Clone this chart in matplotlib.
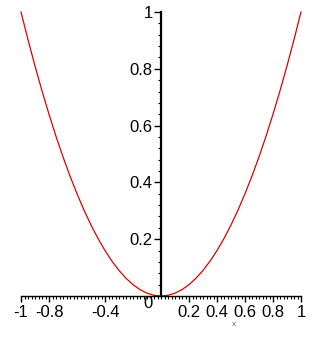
import matplotlib
matplotlib.use("Agg")
import matplotlib.pyplot as plt
from matplotlib.ticker import FixedLocator, MultipleLocator

# data (curve samples)
x_vals = [-1.0, -0.95, -0.9, -0.85, -0.8, -0.75, -0.7, -0.65, -0.6, -0.55, -0.5,
          -0.45, -0.4, -0.35, -0.3, -0.25, -0.2, -0.15, -0.1, -0.05, 0.0,
          0.05, 0.1, 0.15, 0.2, 0.25, 0.3, 0.35, 0.4, 0.45, 0.5,
          0.55, 0.6, 0.65, 0.7, 0.75, 0.8, 0.85, 0.9, 0.95, 1.0]
y_vals = [1.0, 0.9025, 0.81, 0.7225, 0.64, 0.5625, 0.49, 0.4225, 0.36, 0.3025, 0.25,
          0.2025, 0.16, 0.1225, 0.09, 0.0625, 0.04, 0.0225, 0.01, 0.0025, 0.0,
          0.0025, 0.01, 0.0225, 0.04, 0.0625, 0.09, 0.1225, 0.16, 0.2025, 0.25,
          0.3025, 0.36, 0.4225, 0.49, 0.5625, 0.64, 0.7225, 0.81, 0.9025, 1.0]

x_ticks = [-1, -0.8, -0.4, 0.2, 0.4, 0.6, 0.8, 1]
x_tick_labels = ["-1", "-0.8", "-0.4", "0.2", "0.4", "0.6", "0.8", "1"]
y_ticks = [0.2, 0.4, 0.6, 0.8, 1]
y_tick_labels = ["0.2", "0.4", "0.6", "0.8", "1"]

plt.rcParams['font.family'] = ['Liberation Sans', 'DejaVu Sans']

W, H = 321, 339
fig = plt.figure(figsize=(W / 100, H / 100), dpi=100)
ax = fig.add_axes([21 / W, (H - 296) / H, 280 / W, 284 / H])
ax.set_xlim(-1, 1)
ax.set_ylim(0, 1)

ax.plot(x_vals, y_vals, color='#e00000', lw=0.9, clip_on=False)

for s in ['top', 'right']:
    ax.spines[s].set_visible(False)
ax.spines['left'].set_position(('data', 0))
ax.spines['bottom'].set_position(('data', 0))
ax.spines['left'].set_linewidth(1.6)
ax.spines['bottom'].set_linewidth(1.0)

ax.xaxis.set_major_locator(FixedLocator(x_ticks))
ax.set_xticklabels(x_tick_labels)
ax.xaxis.set_minor_locator(MultipleLocator(0.025))
ax.yaxis.set_major_locator(FixedLocator(y_ticks))
ax.set_yticklabels(y_tick_labels)
ax.yaxis.set_minor_locator(MultipleLocator(0.04))

ax.tick_params(axis='x', which='major', direction='out', length=4, width=1, pad=2.5, labelsize=12)
ax.tick_params(axis='x', which='minor', direction='out', length=2.2, width=0.8)
ax.tick_params(axis='y', which='major', direction='out', length=5, width=1, pad=1, labelsize=12)
ax.tick_params(axis='y', which='minor', direction='out', length=2, width=0.8)

ax.text(-0.06, 0.0, "0", ha='right', va='top', fontsize=12, transform=ax.transData)
ax.text(0.52, -0.1, "x", ha='center', va='center', fontsize=6, color='#666666')

fig.savefig("out.png", dpi=100)
